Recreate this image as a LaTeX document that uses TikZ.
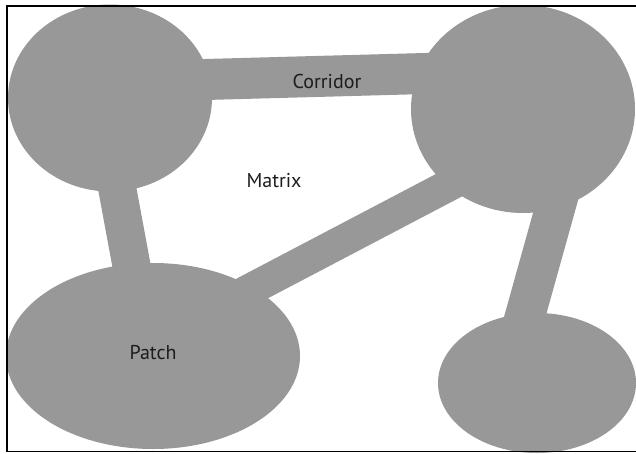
\documentclass[tikz,border=0pt]{standalone}
\usepackage{fontspec}
\setmainfont{PT Sans}
\usetikzlibrary{shapes.geometric}
\definecolor{patchgray}{RGB}{152,152,152}
\definecolor{labelink}{RGB}{30,27,28}
\tikzset{
  patchshape/.style={ellipse, fill=patchgray, inner sep=0pt, outer sep=0pt},
  corridorband/.style={draw=patchgray, line cap=butt},
  labeltext/.style={anchor=base, text=labelink, inner sep=0pt, font=\fontsize{20}{24}\selectfont},
}
\begin{document}
\begin{tikzpicture}[x=1pt, y=-1pt]
\useasboundingbox (0,0) rectangle (636,453);
\fill[white] (0,0) rectangle (636,453);
% corridor end points (inside patches)
\coordinate (t1) at (150,81);
\coordinate (t2) at (480,72);
\coordinate (l1) at (110.75,153.5);
\coordinate (l2) at (137.75,299.5);
\coordinate (d1) at (216.7,307.1);
\coordinate (d2) at (484.8,166.4);
\coordinate (r1) at (561,187);
\coordinate (r2) at (517.8,341.8);
% corridors
\draw[corridorband, line width=41pt] (t1) -- (t2);
\draw[corridorband, line width=38pt] (l1) -- (l2);
\draw[corridorband, line width=32pt] (d1) -- (d2);
\draw[corridorband, line width=40pt] (r1) -- (r2);
% patches
\node[patchshape, minimum width=204pt, minimum height=187pt] (pa) at (110,98) {};
\node[patchshape, minimum width=224pt, minimum height=208pt] (pb) at (523,109) {};
\node[patchshape, minimum width=294pt, minimum height=186pt] (pc) at (153,356) {};
\node[patchshape, minimum width=198pt, minimum height=140pt] (pd) at (537,383) {};
% labels
\node[labeltext] (lcor) at (327,88) {Corridor};
\node[labeltext] (lmat) at (274,187) {Matrix};
\node[labeltext] (lpat) at (153,359) {Patch};
% frame (open on the right)
\draw[line width=1.5pt, black] (640,5.75) -- (6.75,5.75) -- (6.75,451.25) -- (640,451.25);
\end{tikzpicture}
\end{document}
